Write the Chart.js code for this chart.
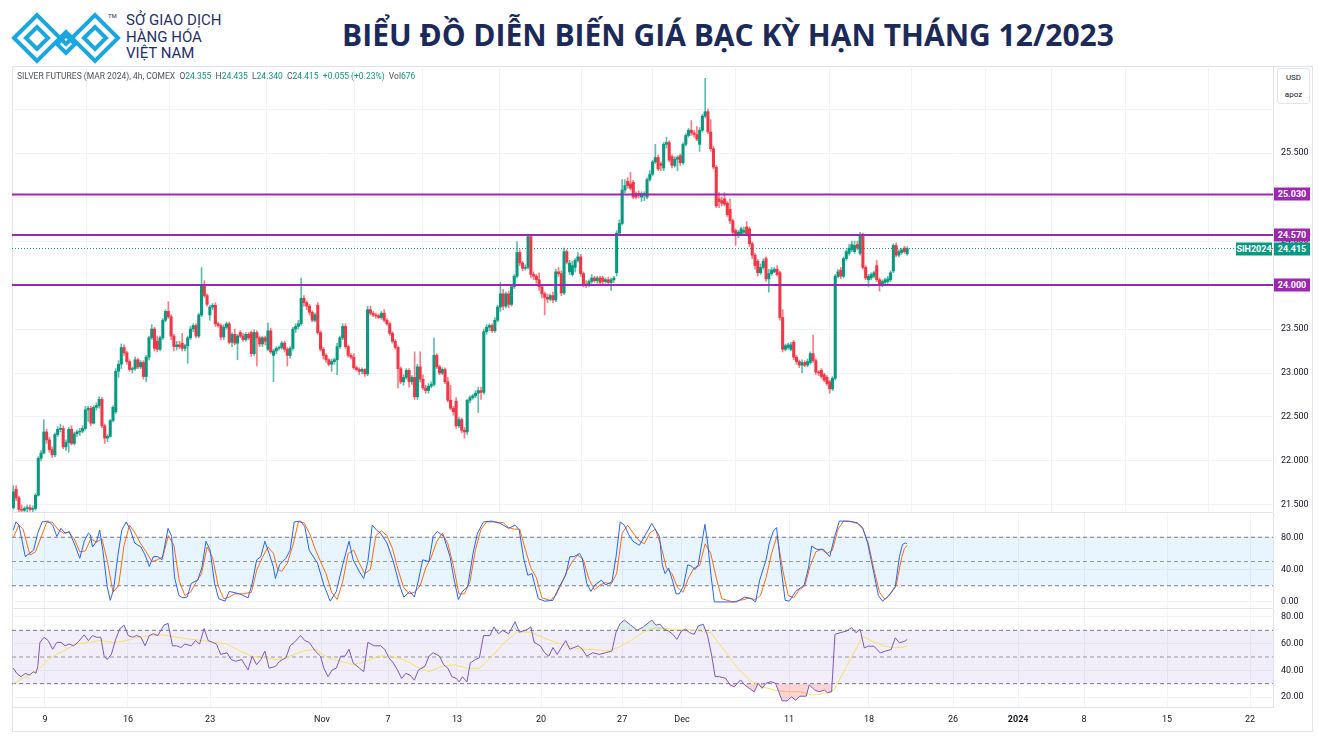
<!DOCTYPE html>
<html>
<head>
<meta charset="utf-8">
<script src="https://cdn.jsdelivr.net/npm/chart.js@4.4.1/dist/chart.umd.min.js"></script>
<style>
  body { margin: 0; background: #fff; font-family: Roboto, "Noto Sans", sans-serif; }
  #page { position: relative; width: 1319px; height: 740px; overflow: hidden; background: #fff; }
  .abs { position: absolute; }
  .brand { left: 126px; color: #1f2f6e; font-size: 15px; line-height: 15px; white-space: nowrap; }
  #title { left: 200px; width: 1056px; top: 14px; text-align: center; font-family: "Open Sans", sans-serif;
           font-weight: 700; font-size: 30px; color: #1c2a5a; white-space: nowrap; }
  #frame { left: 12px; top: 66px; width: 1301px; height: 666px; border: 1px solid #e0e3eb; box-sizing: border-box; }
  .pane { position: absolute; left: 12px; width: 1298px; }
  .sep { left: 12px; width: 1261px; height: 1px; background: #e0e3eb; }
  #legend { left: 17px; top: 71px; font-size: 8.5px; color: #50535e; white-space: nowrap; }
  #legend b { font-weight: normal; color: #089981; }
  #unit { left: 1277px; top: 68px; width: 33px; height: 36px; border: 1px solid #e0e3eb; border-radius: 3px;
          box-sizing: border-box; font-size: 8px; color: #131722; text-align: center; line-height: 17px; background: #fff; }
  .tag { position: absolute; height: 13px; line-height: 13px; font-size: 9px; font-weight: bold; color: #fff;
         text-align: center; transform: translateY(-50%); }
</style>
</head>
<body>
<div id="page">
  <svg class="abs" style="left:10px;top:10px" width="112" height="56" viewBox="0 0 112 56">
    <g fill="none" stroke="#1aa7e1" stroke-width="4">
      <path d="M4 28 L27 5 L56 34 L85 5 L108 28 L85 51 L56 22 L27 51 Z"/>
      <path d="M16 28 L27 17 L38 28 L27 39 Z"/>
      <path d="M74 28 L85 17 L96 28 L85 39 Z"/>
      <path d="M47 34 L56 25 L65 34 L56 43 Z"/>
    </g>
  </svg>
  <div class="abs" style="left:108px;top:12px;font-size:6px;color:#1f2f6e">TM</div>
  <div class="abs brand" style="top:13px">SỞ GIAO DỊCH</div>
  <div class="abs brand" style="top:30px">HÀNG HÓA</div>
  <div class="abs brand" style="top:46px">VIỆT NAM</div>
  <div id="title" class="abs">BIỂU ĐỒ DIỄN BIẾN GIÁ BẠC KỲ HẠN THÁNG 12/2023</div>

  <div id="frame" class="abs"></div>
  <div class="pane" style="top:66px;height:446px"><canvas id="priceChart"></canvas></div>
  <div class="abs sep" style="top:512px"></div>
  <div class="pane" style="top:513px;height:95px"><canvas id="stochChart"></canvas></div>
  <div class="abs sep" style="top:608px"></div>
  <div class="pane" style="top:609px;height:121px"><canvas id="rsiChart"></canvas></div>

  <div id="legend" class="abs">SILVER FUTURES (MAR 2024), 4h, COMEX&nbsp;&nbsp;O<b>24.355</b>&nbsp;&nbsp;H<b>24.435</b>&nbsp;&nbsp;L<b>24.340</b>&nbsp;&nbsp;C<b>24.415</b>&nbsp;&nbsp;<b>+0.055 (+0.23%)</b>&nbsp;&nbsp;Vol<b>676</b></div>
  <div id="unit" class="abs">USD<br>apoz</div>
</div>

<script>
// 4h bars, one per index; x axis is in bar units
const tickBars = [11.4, 41.4, 71.1, 111.5, 135.4, 160.3, 190.7, 220.0, 241.6, 280.3, 309.2, 339.6, 363.1, 386.9, 416.9, 446.9];
const tickLabels = ['9', '16', '23', 'Nov', '7', '13', '20', '27', 'Dec', '11', '18', '26', '2024', '8', '15', '22'];
const priceTicks = [21.5, 22, 22.5, 23, 23.5, 24, 24.5, 25, 25.5, 26];
const levels = [25.03, 24.57, 24.00];
const lastPrice = 24.415;

const opens = [
  21.47,21.68,21.58,21.45,21.44,21.46,21.47,21.45,21.46,21.61,
  22.03,22.09,22.33,22.24,22.13,22.07,22.30,22.36,22.37,22.16,
  22.21,22.36,22.20,22.31,22.33,22.34,22.37,22.58,22.60,22.43,
  22.61,22.63,22.70,22.40,22.26,22.28,22.46,22.56,23.02,23.10,
  23.29,23.23,23.13,23.04,23.05,23.15,23.07,23.12,22.96,23.18,
  23.40,23.50,23.36,23.27,23.40,23.60,23.70,23.64,23.42,23.30,
  23.32,23.34,23.28,23.31,23.40,23.50,23.54,23.42,23.66,24.00,
  23.88,23.66,23.75,23.77,23.56,23.54,23.41,23.52,23.56,23.35,
  23.44,23.34,23.46,23.42,23.38,23.44,23.46,23.22,23.46,23.40,
  23.33,23.40,23.27,23.48,23.20,23.25,23.28,23.29,23.34,23.27,
  23.20,23.28,23.50,23.53,23.56,23.85,23.80,23.76,23.69,23.60,
  23.77,23.46,23.27,23.20,23.15,23.10,23.13,23.15,23.30,23.40,
  23.53,23.30,23.20,23.18,23.06,23.04,23.02,23.04,22.99,23.72,
  23.68,23.66,23.65,23.63,23.68,23.60,23.56,23.45,23.36,23.29,
  23.05,22.90,22.95,23.03,22.90,22.95,22.73,23.07,22.93,22.83,
  22.80,22.85,22.87,23.20,23.07,23.00,23.04,22.90,22.69,22.60,
  22.68,22.40,22.47,22.35,22.33,22.69,22.72,22.74,22.77,22.80,
  22.78,23.47,23.52,23.54,23.48,23.60,23.75,23.90,23.76,23.90,
  23.78,23.98,24.10,24.37,24.25,24.19,24.20,24.55,24.12,24.10,
  24.06,23.98,23.90,23.86,23.84,23.88,23.83,24.15,24.13,23.91,
  24.38,24.15,24.12,24.20,24.28,24.32,24.13,24.01,24.00,24.04,
  24.08,24.05,24.08,24.08,24.04,24.06,24.03,24.06,24.14,24.59,
  24.70,25.08,25.18,25.15,25.17,25.04,25.04,25.00,25.02,25.00,
  25.20,25.26,25.40,25.45,25.38,25.33,25.60,25.62,25.46,25.36,
  25.43,25.47,25.39,25.60,25.70,25.76,25.73,25.71,25.60,25.76,
  25.92,25.97,25.74,25.55,25.34,24.98,24.96,24.98,24.93,24.86,
  24.73,24.62,24.56,24.58,24.60,24.66,24.64,24.47,24.34,24.27,
  24.14,24.20,24.30,24.07,24.13,24.15,24.18,24.14,23.63,23.27,
  23.29,23.27,23.35,23.18,23.13,23.09,23.12,23.09,23.12,23.22,
  23.14,23.01,23.03,22.98,22.95,22.90,22.82,22.94,24.10,24.17,
  24.10,24.30,24.36,24.40,24.38,24.46,24.36,24.57,24.20,24.06,
  24.08,24.10,24.22,24.06,24.00,24.03,24.04,24.06,24.16,24.45,
  24.34,24.37,24.42,24.355
];
const highs = [
  21.72,21.72,21.60,21.50,21.48,21.50,21.50,21.49,21.63,22.05,
  22.12,22.47,22.36,22.27,22.16,22.32,22.39,22.42,22.40,22.24,
  22.38,22.40,22.33,22.35,22.37,22.40,22.62,22.62,22.62,22.63,
  22.66,22.73,22.72,22.42,22.30,22.47,22.63,23.05,23.14,23.33,
  23.32,23.25,23.15,23.07,23.18,23.17,23.14,23.14,23.20,23.42,
  23.55,23.52,23.42,23.42,23.62,23.72,23.81,23.66,23.44,23.36,
  23.36,23.45,23.33,23.42,23.53,23.56,23.56,23.68,24.20,24.05,
  23.90,23.77,23.79,23.80,23.58,23.56,23.55,23.58,23.58,23.46,
  23.50,23.44,23.48,23.45,23.46,23.46,23.48,23.49,23.48,23.42,
  23.42,23.42,23.57,23.51,23.27,23.30,23.31,23.36,23.36,23.29,
  23.30,23.52,23.56,23.60,24.08,23.88,23.82,23.78,23.71,23.68,
  23.80,23.48,23.29,23.22,23.16,23.16,23.17,23.34,23.42,23.56,
  23.56,23.32,23.22,23.22,23.08,23.06,23.06,23.05,23.76,23.76,
  23.70,23.68,23.67,23.70,23.72,23.62,23.58,23.47,23.38,23.31,
  23.07,22.98,23.05,23.05,22.97,23.24,23.10,23.24,22.98,22.86,
  22.88,22.90,23.40,23.22,23.09,23.06,23.06,22.95,22.86,22.62,
  22.72,22.50,22.49,22.38,22.70,22.74,22.76,22.80,22.84,22.84,
  23.50,23.55,23.56,23.56,23.63,23.77,24.03,23.95,23.92,23.93,
  24.00,24.12,24.49,24.40,24.27,24.23,24.58,24.57,24.15,24.12,
  24.14,24.00,23.92,23.90,23.90,23.92,24.18,24.20,24.16,24.42,
  24.40,24.28,24.27,24.30,24.37,24.35,24.15,24.05,24.06,24.12,
  24.10,24.10,24.10,24.10,24.08,24.09,24.08,24.10,24.62,24.74,
  25.20,25.20,25.22,25.28,25.19,25.06,25.07,25.06,25.06,25.22,
  25.30,25.42,25.60,25.48,25.40,25.62,25.68,25.64,25.48,25.46,
  25.47,25.49,25.62,25.72,25.78,25.87,25.76,25.80,25.79,25.94,
  26.35,26.00,25.88,25.58,25.36,25.05,25.00,25.05,24.95,24.98,
  24.75,24.64,24.62,24.66,24.66,24.72,24.66,24.49,24.36,24.29,
  24.24,24.30,24.32,24.18,24.20,24.20,24.22,24.16,23.72,23.33,
  23.34,23.35,23.37,23.20,23.15,23.15,23.14,23.16,23.24,23.43,
  23.16,23.03,23.05,23.00,22.97,22.92,22.96,24.12,24.18,24.20,
  24.32,24.40,24.46,24.50,24.50,24.50,24.60,24.59,24.22,24.12,
  24.14,24.16,24.28,24.08,24.06,24.08,24.10,24.16,24.47,24.48,
  24.40,24.42,24.44,24.435
];
const lows = [
  21.45,21.55,21.42,21.40,21.40,21.42,21.43,21.42,21.44,21.60,
  22.00,22.08,22.20,22.10,22.04,22.05,22.28,22.33,22.14,22.12,
  22.10,22.18,22.18,22.28,22.29,22.32,22.35,22.45,22.40,22.42,
  22.58,22.60,22.38,22.20,22.22,22.27,22.44,22.54,22.95,23.05,
  23.20,23.10,23.02,23.00,23.03,23.05,23.05,22.93,22.90,23.15,
  23.38,23.25,23.24,23.25,23.38,23.58,23.62,23.38,23.25,23.26,
  23.28,23.25,23.25,23.11,23.38,23.47,23.40,23.40,23.64,23.86,
  23.76,23.60,23.72,23.53,23.52,23.38,23.38,23.50,23.33,23.30,
  23.32,23.15,23.40,23.36,23.36,23.38,23.19,23.20,23.08,23.30,
  23.30,23.32,23.25,23.22,22.90,23.22,23.26,23.27,23.24,23.08,
  23.17,23.26,23.46,23.50,23.54,23.76,23.72,23.66,23.58,23.58,
  23.44,23.25,23.16,23.12,23.08,23.02,23.10,22.98,23.28,23.38,
  23.28,23.18,23.16,23.04,23.02,22.98,22.99,22.96,22.97,23.66,
  23.64,23.62,23.62,23.61,23.58,23.54,23.43,23.34,23.27,22.83,
  22.88,22.86,22.93,22.84,22.87,22.70,22.70,22.90,22.81,22.77,
  22.77,22.83,22.85,23.05,22.98,22.98,22.88,22.67,22.58,22.52,
  22.37,22.38,22.32,22.26,22.30,22.66,22.70,22.72,22.55,22.70,
  22.76,23.44,23.48,23.46,23.46,23.58,23.70,23.72,23.74,23.74,
  23.76,23.96,24.08,24.22,24.16,24.17,24.18,24.08,24.06,24.02,
  23.94,23.85,23.66,23.80,23.82,23.80,23.81,24.10,23.88,23.89,
  24.24,24.12,24.10,24.15,24.26,24.10,23.98,23.97,23.98,24.02,
  24.03,24.02,24.00,24.01,24.02,24.00,23.94,24.03,24.10,24.57,
  24.68,25.05,25.10,25.08,24.98,24.98,24.99,24.95,24.96,24.98,
  25.18,25.24,25.38,25.30,25.30,25.30,25.56,25.40,25.33,25.34,
  25.30,25.36,25.37,25.58,25.68,25.70,25.68,25.64,25.52,25.74,
  25.90,25.72,25.52,25.32,24.88,24.88,24.90,24.90,24.78,24.70,
  24.58,24.45,24.54,24.56,24.58,24.56,24.44,24.30,24.18,24.10,
  24.12,24.18,24.04,23.92,24.11,24.14,24.10,23.60,23.24,23.25,
  23.27,23.25,23.15,23.10,23.06,23.00,23.07,23.07,23.10,23.12,
  22.98,22.97,22.94,22.90,22.86,22.77,22.80,22.92,24.08,24.07,
  24.08,24.28,24.34,24.38,24.36,24.40,24.34,24.18,24.06,23.98,
  24.06,24.08,24.04,23.93,23.98,24.01,24.02,24.04,24.14,24.32,
  24.32,24.35,24.36,24.34
];
const closes = [
  21.65,21.58,21.45,21.44,21.46,21.47,21.45,21.46,21.61,22.03,
  22.09,22.33,22.24,22.13,22.07,22.30,22.36,22.37,22.16,22.21,
  22.36,22.20,22.31,22.33,22.34,22.37,22.58,22.60,22.43,22.61,
  22.63,22.70,22.40,22.26,22.28,22.46,22.61,23.02,23.10,23.29,
  23.23,23.13,23.04,23.05,23.15,23.07,23.12,22.96,23.18,23.40,
  23.50,23.28,23.27,23.40,23.60,23.70,23.64,23.42,23.30,23.32,
  23.30,23.28,23.31,23.40,23.50,23.54,23.42,23.66,24.00,23.88,
  23.78,23.75,23.77,23.56,23.54,23.41,23.52,23.56,23.35,23.44,
  23.34,23.42,23.42,23.38,23.44,23.40,23.22,23.46,23.40,23.33,
  23.40,23.36,23.48,23.24,23.25,23.28,23.29,23.34,23.27,23.20,
  23.28,23.50,23.53,23.56,23.85,23.80,23.76,23.69,23.60,23.66,
  23.46,23.27,23.20,23.15,23.10,23.13,23.15,23.30,23.40,23.53,
  23.30,23.20,23.18,23.06,23.04,23.02,23.04,22.99,23.72,23.68,
  23.66,23.65,23.63,23.68,23.60,23.56,23.45,23.36,23.29,23.05,
  22.90,22.95,23.03,22.90,22.95,22.73,23.07,22.93,22.83,22.80,
  22.85,22.87,23.20,23.07,23.00,23.04,22.90,22.69,22.60,22.56,
  22.40,22.47,22.35,22.33,22.69,22.72,22.74,22.77,22.80,22.78,
  23.47,23.52,23.54,23.48,23.60,23.75,23.90,23.76,23.90,23.78,
  23.98,24.10,24.37,24.25,24.19,24.20,24.55,24.12,24.10,24.06,
  23.98,23.90,23.86,23.84,23.88,23.83,24.15,24.13,23.91,24.38,
  24.26,24.25,24.22,24.28,24.32,24.13,24.01,24.00,24.04,24.08,
  24.05,24.08,24.03,24.04,24.06,24.03,24.06,24.08,24.59,24.70,
  25.08,25.13,25.13,25.10,25.00,25.00,25.02,25.04,25.04,25.20,
  25.26,25.40,25.45,25.32,25.36,25.60,25.62,25.42,25.36,25.43,
  25.45,25.39,25.60,25.70,25.76,25.73,25.71,25.66,25.76,25.92,
  25.97,25.74,25.55,25.34,24.90,24.95,24.93,24.92,24.80,24.73,
  24.60,24.56,24.60,24.64,24.62,24.58,24.47,24.34,24.22,24.14,
  24.20,24.27,24.07,24.13,24.17,24.18,24.12,23.63,23.27,23.31,
  23.32,23.32,23.18,23.13,23.09,23.12,23.09,23.13,23.22,23.14,
  23.01,23.00,22.96,22.92,22.88,22.82,22.94,24.10,24.15,24.10,
  24.30,24.38,24.42,24.46,24.45,24.42,24.57,24.20,24.08,24.10,
  24.12,24.14,24.06,24.00,24.04,24.06,24.07,24.14,24.45,24.34,
  24.38,24.40,24.38,24.415
];

// stochastic %K (blue) and %D (orange), [bar, value]
const stochK = [[0,89],[0.9,99],[2,95],[4.3,56],[5.8,60],[7.3,64],[8.8,85],[10.4,99],[12.6,100],[14.2,95],[15.7,81],[17.2,91],[18.7,85],[20.2,87],[22.5,68],[24,54],[25.6,75],[27.1,85],[27.8,83],[28.6,68],[30.1,75],[31.2,89],[32.4,62],[33.9,19],[35,2],[36.2,15],[37.7,56],[39.2,89],[40.8,99],[42.3,89],[43.8,73],[46.1,68],[47.6,58],[49.1,44],[50.6,56],[52.2,56],[53.7,52],[54.4,64],[55.9,91],[57.2,81],[58.2,31],[59.8,8],[61.3,5],[62.8,6],[64.3,23],[66.6,27],[68.1,42],[69.6,75],[71.1,64],[72.7,23],[74.2,4],[76.5,1],[78,13],[81.8,10],[84.8,5],[86.3,23],[87.9,52],[89.4,56],[90.9,75],[92.4,60],[93.9,44],[94.7,29],[96.2,46],[98.5,54],[100,64],[101.5,99],[103.8,100],[105.3,93],[106.9,64],[109.9,48],[112.2,21],[114.5,1],[116.7,13],[119,46],[121.3,75],[122.8,52],[125.1,37],[126.6,29],[128.1,50],[129.7,95],[131.2,89],[132.7,85],[135,73],[137.3,50],[139.5,21],[141.1,6],[143.3,13],[144.9,6],[146.4,27],[147.9,52],[150.2,50],[151.7,81],[153.2,87],[155.5,81],[157.8,56],[159.3,27],[160.8,3],[162.3,13],[164.2,19],[166.1,60],[167.7,85],[169.9,99],[173,100],[176,97],[179,91],[181.3,95],[182.8,89],[184.4,54],[185.9,33],[187.4,35],[189.7,4],[192,1],[195,2],[197.3,19],[199.6,33],[201.1,56],[202.6,56],[204.6,60],[205.6,54],[207.2,23],[208.7,13],[210.2,21],[212.5,27],[214,21],[216.3,25],[217.8,56],[219.3,99],[220.8,95],[222.4,83],[223.9,75],[226.2,70],[228.4,83],[230.7,97],[233.5,81],[234.5,46],[235.5,35],[236.8,42],[238.3,25],[239.5,10],[240.6,10],[242.1,19],[243.7,46],[245.2,44],[246.3,40],[247.5,46],[249,77],[249.9,96],[250.9,73],[252.1,33],[253.3,0],[261.3,0],[264.3,6],[266.6,4],[268.2,0],[269.7,27],[272,52],[273.2,73],[274.7,88],[275.8,92],[277,54],[278.9,2],[280.4,1],[282.7,13],[285.8,21],[287.3,42],[288.5,69],[290.4,65],[292.7,65],[295,56],[296.8,81],[298.5,100],[301.8,100],[304.9,98],[306.9,92],[308.7,73],[311,35],[312.6,8],[314.1,1],[316.4,8],[318.7,19],[320.2,56],[321.3,71],[322.3,73],[323,72]];
const stochD = [[0,80],[2,95],[3.5,90],[6,58],[8,62],[10,80],[12,98],[14,99],[16,90],[18,85],[20,86],[22,78],[24,62],[26,63],[28,78],[30,74],[32,78],[34,50],[36,12],[38,20],[40,70],[42,95],[44,85],[46,72],[48,62],[50,50],[52,52],[54,56],[56,82],[58,70],[60,25],[62,8],[64,12],[66,24],[68,35],[70,68],[72,55],[74,20],[76,4],[78,6],[80,10],[83,10],[86,12],[88,40],[90,55],[92,68],[94,60],[95.5,40],[97,38],[99,48],[101,70],[103,99],[105,98],[107,85],[109,66],[111,50],[113,35],[115,12],[117,3],[119,25],[121,60],[123,64],[125,48],[127,35],[129,40],[131,82],[133,88],[135,82],[137,66],[139,40],[141,18],[143,10],[145,12],[147,20],[149,42],[151,55],[153,75],[155,85],[157,72],[159,45],[161,10],[163,10],[165,25],[167,65],[169,90],[171,99],[174,99],[177,98],[179,92],[181,90],[183,90],[185,65],[187,42],[189,30],[191,5],[194,2],[196,8],[198,22],[200,38],[202,50],[204,58],[206,52],[208,28],[210,15],[212,21],[214,24],[216,22],[218,35],[220,85],[222,95],[224,85],[226,76],[228,72],[230,85],[232,90],[234,70],[236,42],[238,35],[240,18],[242,12],[244,30],[246,42],[248,45],[250,72],[252,60],[254,30],[256,4],[260,0],[264,3],[266,5],[268,3],[270,8],[272,30],[274,60],[276,82],[278,40],[280,8],[282,5],[284,15],[286,20],[288,45],[290,62],[292,65],[294,60],[296,64],[298,90],[300,100],[303,99],[305,97],[307,90],[309,72],[311,40],[313,12],[315,3],[317,10],[319,20],[321,55],[322,66],[323,70]];

// RSI (purple) and its moving average (yellow), [bar, value]
const rsi = [[0,41.6],[1.2,37.7],[2.8,35.2],[4.3,37.7],[5.8,36.5],[7.3,39],[8.1,37.7],[8.8,42.9],[9.6,61],[11.1,64.8],[12.6,62.3],[14.2,55.8],[15.7,61],[17.2,61],[18.7,58.4],[20.2,59.7],[21.8,58.4],[23.3,61],[25.6,66.6],[27.1,62.3],[28.6,66.1],[30.1,64.8],[31.6,64.8],[32.8,50.6],[33.9,48.1],[35.4,51.9],[37,63.5],[38.5,71.3],[40,73.9],[41.5,66.1],[43,64.8],[44.5,66.1],[46.1,64.8],[47.6,58.4],[49.1,66.1],[50.6,67.4],[52.2,66.1],[54.4,73.9],[55.9,75.2],[57.5,58.4],[59,58.4],[60.5,57.1],[62,59.7],[64.3,58.4],[65.8,62.3],[67.3,59.7],[68.9,71.3],[70.4,62.3],[71.9,61],[73.4,59.7],[74.9,51.9],[77.2,53.2],[78.7,48.1],[80.3,46.8],[82.5,48.1],[84.8,40.3],[86.3,50.6],[87.9,44.2],[89.4,48.1],[90.9,54.5],[92.4,41.6],[94.7,42.9],[96.2,46.8],[98.5,49.4],[100,58.4],[101.5,61],[103.8,66.1],[105.3,62.3],[106.9,61],[109.1,54.5],[111,50.6],[112.2,41.6],[113.7,35.2],[115.2,40.3],[116.7,41.6],[118.3,50.6],[119.8,50.6],[121.3,55.8],[122.8,45.5],[125.1,41.6],[126.6,39],[128.1,61],[130.4,58.4],[132.7,58.4],[134.2,55.8],[135.7,49.4],[137.3,45.5],[138.8,40.3],[140.3,33.9],[141.8,37.7],[143.3,36.5],[144.9,32.6],[146.4,40.3],[148.7,42.9],[150.2,50.6],[151.7,53.2],[154,50.6],[155.5,44.2],[157,41.6],[158.5,35.2],[160.1,33.9],[161.1,31.3],[162.3,35.2],[163.9,31.3],[165.1,45.5],[166.9,48.1],[168.4,49.4],[169.9,66.1],[172.2,66.1],[173.7,72.6],[175.3,67.4],[176.8,70],[179,67.4],[181.3,76.5],[182.8,68.7],[185.1,70],[187,72.6],[188.2,61],[190.4,58.4],[192,53.2],[193.5,50.6],[195,57.1],[196.5,51.9],[199.6,62.3],[201.1,55.8],[204.1,58.4],[205.6,55.8],[207.2,50.6],[209.4,53.2],[211.7,51.9],[214,53.2],[216.3,54.5],[217.8,68.7],[219.3,75.2],[220.8,77.7],[223.1,73.9],[225.4,70],[227.7,72.6],[230.7,77.7],[232.2,73.9],[233.7,74.6],[235.2,70.8],[236.8,69.5],[238.3,67],[239.8,63.2],[241.4,69.5],[242.9,70.8],[244.4,68.2],[246,67],[247.5,73.3],[249.3,74.6],[250.9,65.7],[252.4,50.5],[253.6,35.3],[255.1,35.3],[257.4,34],[259,29],[260.5,27.7],[262.8,32.8],[264.3,29],[265.9,26.5],[267.7,23.9],[269.2,30.3],[270.5,26.5],[272,30.3],[273.8,31.5],[275.4,30.3],[276.6,23.9],[277.8,17.1],[279.6,17.1],[281.2,20.1],[282.7,17.6],[284.2,20.6],[286.5,20.6],[287.6,29],[289.6,25.2],[291.1,23.9],[293.1,25.2],[294.2,23.2],[295.7,23.9],[296.9,67],[298.8,68.2],[301.1,69.5],[302.9,72],[304.5,68.2],[306,70.8],[307.5,56.8],[309,58.1],[311,58.1],[313.3,53],[314.9,54.3],[317.2,55.6],[318.7,64.4],[320.2,60.6],[322.2,61.9],[323,63.2]];
const rsiMa = [[0,30],[4.3,35.2],[8.8,40.3],[13.4,49.4],[18,54.5],[22.5,59.7],[27.1,61],[31.6,62.3],[36.2,61],[40.8,62.3],[45.3,64.8],[49.9,66.1],[54.4,66.6],[59,64.8],[63.5,63.5],[68.1,62.3],[72.7,61],[77.2,59.7],[81.8,54.5],[86.3,50.6],[90.9,49.4],[95.5,48.1],[100,50.6],[104.6,54.5],[109.1,55.8],[113.7,49.4],[118.3,46.8],[122.8,44.2],[127.4,46.8],[131.9,50.6],[136.5,50.6],[141.1,48.1],[145.6,42.9],[150.2,39],[154.7,42.9],[159.3,44.2],[163.9,41.6],[168.4,41.6],[173,50.6],[177.5,61],[182.1,68.7],[186.6,68.7],[191.2,64.8],[195.8,61],[200.3,58.4],[204.9,55.8],[209.4,55.8],[214,54.5],[218.6,57.1],[223.1,62.3],[227.7,68.7],[232.2,72],[238.3,70.8],[242.9,70.8],[247.5,69.5],[252.1,68.2],[256.7,55.6],[261.3,42.9],[265.9,32.8],[270.5,27.7],[275,25.2],[279.6,23.9],[284.2,23.9],[288.8,21.4],[293.4,22.7],[296.5,25.2],[301.1,42.9],[305.7,60.6],[306.9,65.7],[310.3,61.9],[314.9,58.1],[318.7,56.8],[323,58.1]];

Chart.defaults.font.family = 'Roboto, sans-serif';
Chart.defaults.font.size = 9;
Chart.defaults.animation = false;
Chart.defaults.plugins.legend.display = false;
Chart.defaults.plugins.tooltip.enabled = false;

const UP = '#089981', DOWN = '#f23645';
const X_MIN = -0.5, X_MAX = 455.2;

function xAxis(showLabels) {
  return {
    type: 'linear', min: X_MIN, max: X_MAX, offset: false,
    afterBuildTicks: s => { s.ticks = tickBars.map(v => ({ value: v })); },
    afterFit: s => { s.height = showLabels ? 23 : 0; s.paddingLeft = 0; s.paddingRight = 0; },
    grid: { color: '#f0f3fa', drawTicks: false },
    border: { display: showLabels, color: '#e0e3eb' },
    ticks: {
      display: showLabels, autoSkip: false, maxRotation: 0, padding: 7, color: '#131722',
      font: ctx => ({ size: 9, weight: tickLabels[ctx.index] === '2024' ? 'bold' : 'normal' }),
      callback: (v, i) => tickLabels[i]
    }
  };
}
function yAxis(min, max, ticks, fmt) {
  return {
    position: 'right', min: min, max: max,
    afterBuildTicks: s => { s.ticks = ticks.map(v => ({ value: v })); },
    // fixed width, and no extra room above/below for the end labels
    afterFit: s => { s.width = 37; s.paddingTop = 0; s.paddingBottom = 0; },
    grid: { color: '#f0f3fa', drawTicks: false },
    border: { color: '#e0e3eb' },
    ticks: { padding: 8, color: '#131722', callback: fmt }
  };
}
function hline(y, color, width, dash) {
  return { type: 'line', data: [[X_MIN, y], [X_MAX, y]], borderColor: color, borderWidth: width,
           borderDash: dash || [], pointRadius: 0, fill: false };
}
const baseOptions = { responsive: true, maintainAspectRatio: false, layout: { padding: 0, autoPadding: false } };

const candleColor = opens.map((o, i) => closes[i] >= o ? UP : DOWN);
const wickColor = opens.map((o, i) => closes[i] >= o ? 'rgba(8,153,129,0.65)' : 'rgba(242,54,69,0.65)');

const priceChart = new Chart('priceChart', {
  type: 'bar',
  data: {
    datasets: [
      hline(levels[0], '#9c27b0', 2),
      hline(levels[1], '#9c27b0', 2),
      hline(levels[2], '#9c27b0', 2),
      hline(lastPrice, UP, 1, [1, 2]),
      {
        data: opens.map((o, i) => {
          let a = Math.min(o, closes[i]), b = Math.max(o, closes[i]);
          if (b - a < 0.01) b = a + 0.01;
          return { x: i, y: [a, b] };
        }),
        backgroundColor: candleColor, barThickness: 2.4, grouped: false, borderWidth: 0
      },
      {
        data: opens.map((o, i) => ({ x: i, y: [lows[i], highs[i]] })),
        backgroundColor: wickColor, barThickness: 1, grouped: false, borderWidth: 0
      }
    ]
  },
  options: Object.assign({}, baseOptions, {
    scales: {
      x: xAxis(false),
      y: yAxis(21.42, 26.49, priceTicks, v => v === 26 ? '' : v.toFixed(3))
    }
  })
});

new Chart('stochChart', {
  type: 'line',
  data: {
    datasets: [
      { data: stochK, borderColor: '#2962ff', borderWidth: 1, pointRadius: 0, fill: false },
      { data: stochD, borderColor: '#ff6d00', borderWidth: 1, pointRadius: 0, fill: false },
      hline(50, '#9598a1', 1, [4, 3]),
      Object.assign(hline(80, '#787b86', 1, [4, 3]), { fill: '+1', backgroundColor: 'rgba(33,150,243,0.1)' }),
      hline(20, '#787b86', 1, [4, 3])
    ]
  },
  options: Object.assign({}, baseOptions, {
    scales: {
      x: xAxis(false),
      y: yAxis(-7.5, 110, [0, 40, 80], v => v.toFixed(2))
    }
  })
});

new Chart('rsiChart', {
  type: 'line',
  data: {
    datasets: [
      { data: rsi, borderColor: '#7e57c2', borderWidth: 1, pointRadius: 0,
        fill: { target: { value: 30 }, above: 'rgba(0,0,0,0)', below: 'rgba(242,54,69,0.22)' } },
      { data: rsi, borderColor: 'rgba(0,0,0,0)', borderWidth: 0, pointRadius: 0,
        fill: { target: { value: 70 }, above: 'rgba(8,153,129,0.15)', below: 'rgba(0,0,0,0)' } },
      { data: rsiMa, borderColor: '#f7e35a', borderWidth: 1, pointRadius: 0, fill: false },
      hline(50, '#9598a1', 1, [4, 3]),
      Object.assign(hline(70, '#787b86', 1, [4, 3]), { fill: '+1', backgroundColor: 'rgba(126,87,194,0.1)' }),
      hline(30, '#787b86', 1, [4, 3])
    ]
  },
  options: Object.assign({}, baseOptions, {
    scales: {
      x: xAxis(true),
      y: yAxis(12.5, 86, [20, 40, 60, 80], v => v.toFixed(2))
    }
  })
});

// price tags on the right scale, placed through the price scale
const page = document.getElementById('page');
function tag(left, width, value, text, color) {
  const d = document.createElement('div');
  d.className = 'tag';
  d.style.left = left + 'px';
  d.style.width = width + 'px';
  d.style.top = (66 + priceChart.scales.y.getPixelForValue(value)) + 'px';
  d.style.background = color;
  d.textContent = text;
  page.appendChild(d);
}
levels.forEach(v => tag(1274, 36, v, v.toFixed(3), '#9c27b0'));
tag(1274, 36, lastPrice, lastPrice.toFixed(3), UP);
tag(1236, 36, lastPrice, 'SIH2024', UP);
</script>
</body>
</html>
